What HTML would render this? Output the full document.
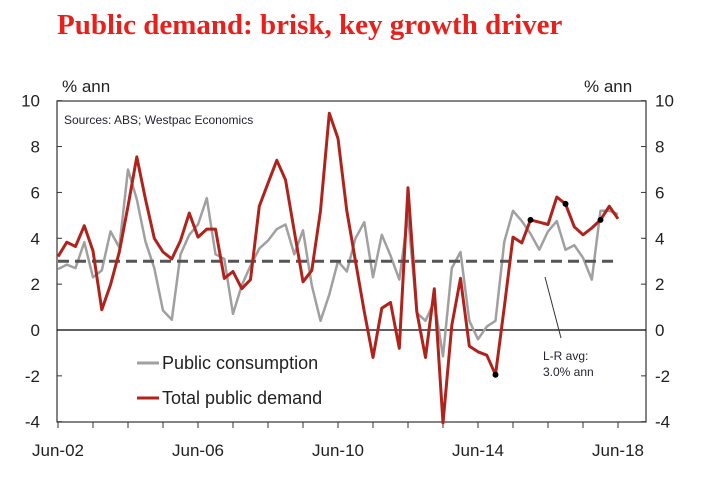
<!DOCTYPE html>
<html><head><meta charset="utf-8">
<style>
body{margin:0;background:#fff;}
svg{display:block;font-family:"Liberation Sans",sans-serif;}
</style></head>
<body>
<svg id="chart" width="707" height="478" viewBox="0 0 707 478">
<text x="57" y="34" font-family="Liberation Serif, serif" font-weight="bold" font-size="29" fill="#e8201c">Public demand: brisk, key growth driver</text>
<text x="62" y="92" font-size="17" fill="#222">% ann</text>
<text x="584" y="92" font-size="17" fill="#222">% ann</text>
<rect x="57" y="101" width="589" height="321" fill="none" stroke="#333" stroke-width="1.2"/>
<text x="64" y="124" font-size="12" fill="#223">Sources: ABS; Westpac Economics</text>
<g id="axes"></g>
<g id="series"></g>
<line x1="545" y1="277" x2="561" y2="338" stroke="#333" stroke-width="1"/>
<text font-size="12" fill="#223"><tspan x="543" y="360">L-R avg:</tspan><tspan x="543" y="376">3.0% ann</tspan></text>
<line x1="137" y1="363" x2="159" y2="363" stroke="#a0a0a0" stroke-width="3"/>
<text x="162" y="369" font-size="18" fill="#222">Public consumption</text>
<line x1="137" y1="398" x2="159" y2="398" stroke="#b0231c" stroke-width="3"/>
<text x="162" y="404" font-size="18" fill="#222">Total public demand</text>
</svg>
<script>
const yTicks=[-4,-2,0,2,4,6,8,10];
const xLabels=["Jun-02","Jun-06","Jun-10","Jun-14","Jun-18"];
const xLabelIdx=[0,16,32,48,64];
const average=3.0;
const consumption=[2.65,2.85,2.7,3.83,2.3,2.6,4.3,3.6,7.0,5.7,3.85,2.7,0.85,0.45,3.3,4.15,4.6,5.75,3.3,3.1,0.7,1.95,2.8,3.55,3.9,4.4,4.6,3.3,4.35,1.95,0.4,1.55,3.0,2.55,4.0,4.7,2.3,4.15,3.25,2.2,5.0,0.75,0.4,1.25,-1.15,2.7,3.4,0.4,-0.4,0.15,0.4,3.85,5.2,4.75,4.2,3.5,4.3,4.75,3.5,3.7,3.15,2.2,5.2,5.2,5.05];
const demand=[3.2,3.83,3.64,4.55,3.45,0.88,1.97,3.4,5.4,7.55,5.7,4.0,3.4,3.1,3.9,5.1,4.05,4.4,4.4,2.25,2.55,1.8,2.2,5.4,6.4,7.4,6.55,4.3,2.1,2.6,5.2,9.45,8.35,5.2,3.0,0.8,-1.2,0.95,1.2,-0.8,6.2,0.8,-1.2,1.8,-4.05,0.2,2.25,-0.7,-0.95,-1.1,-1.95,1.0,4.05,3.8,4.8,4.7,4.6,5.8,5.5,4.5,4.15,4.45,4.8,5.4,4.85];
const markerIdx=[50,54,58,62];
const NS="http://www.w3.org/2000/svg";
const X=i=>58+i*8.75;
const Y=v=>330-v*22.93;
function mk(tag,attrs,parent){const e=document.createElementNS(NS,tag);for(const k in attrs)e.setAttribute(k,attrs[k]);parent.appendChild(e);return e;}
const ax=document.getElementById('axes'),sr=document.getElementById('series');
yTicks.forEach(v=>{
 const t=mk('text',{x:40,y:Y(v)+6,'text-anchor':'end','font-size':17,fill:'#222'},ax);t.textContent=v;
 
 
 const t2=mk('text',{x:655,y:Y(v)+6,'font-size':17,fill:'#222'},ax);t2.textContent=v;
 
 
 const l=mk('line',{x1:57,x2:62,y1:Y(v),y2:Y(v),stroke:'#333'},ax);
 
 
 const l2=mk('line',{x1:641,x2:646,y1:Y(v),y2:Y(v),stroke:'#333'},ax);
 
 
});
for(let i=0;i<=64;i+=4){const l=mk('line',{x1:X(i),x2:X(i),y1:422,y2:428,stroke:'#333'},ax);
 
 }
xLabels.forEach((s,k)=>{const t=mk('text',{x:X(xLabelIdx[k]),y:456,'text-anchor':'middle','font-size':17,fill:'#222'},ax);t.textContent=s;
 
 });
const z=mk('line',{x1:57,x2:646,y1:Y(0),y2:Y(0),stroke:'#000','stroke-width':1.2},ax);


const pts=a=>a.map((v,i)=>X(i).toFixed(1)+','+Y(v).toFixed(1)).join(' ');
const g=mk('polyline',{points:pts(consumption),fill:'none',stroke:'#a0a0a0','stroke-width':2.5,'stroke-linejoin':'round'},sr);


const av=mk('line',{x1:X(0),x2:X(64),y1:Y(average),y2:Y(average),stroke:'#555','stroke-width':3,'stroke-dasharray':'11,6'},sr);


const r=mk('polyline',{points:pts(demand),fill:'none',stroke:'#b0231c','stroke-width':3,'stroke-linejoin':'round'},sr);


markerIdx.forEach(i=>{const c=mk('circle',{cx:X(i),cy:Y(demand[i]),r:3,fill:'#000'},sr);
 
 });
</script>
</body></html>
